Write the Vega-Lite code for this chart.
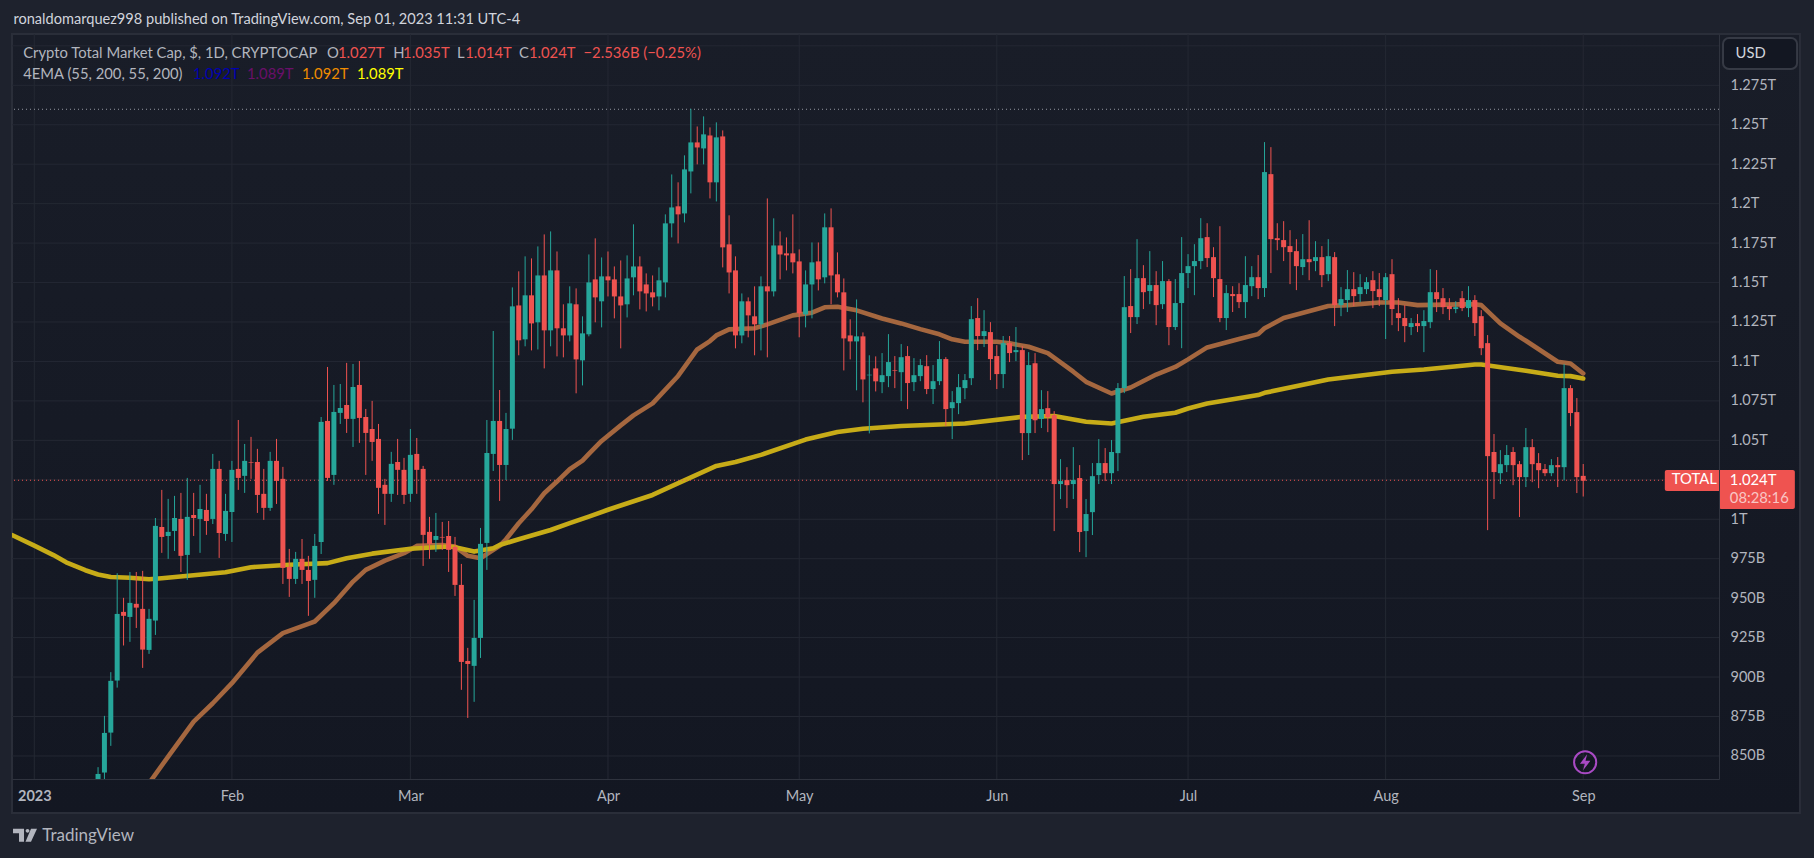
{
"$schema":"https://vega.github.io/schema/vega-lite/v6.json",
"autosize":{"type":"none"},
"padding":{"left":12,"top":34,"right":95,"bottom":79},
"width":1707,"height":745,
"background":"#1e222d",
"config":{"view":{"stroke":null},"font":"Lato","text":{"font":"Lato"},"axis":{"labelFont":"Lato","grid":false,"ticks":false,"title":null}},
"datasets":{
"candles":[
{"date":"2023-01-11","open":830,"high":842.9,"low":828,"close":838.6},
{"date":"2023-01-12","open":839.5,"high":875.4,"low":830,"close":864.6},
{"date":"2023-01-13","open":864.8,"high":903.1,"low":856.4,"close":897.6},
{"date":"2023-01-14","open":897.8,"high":965.8,"low":893.3,"close":940.0},
{"date":"2023-01-15","open":941.3,"high":950.2,"low":920.0,"close":938.8},
{"date":"2023-01-16","open":938.1,"high":966.6,"low":922.3,"close":947.0},
{"date":"2023-01-17","open":946.4,"high":966.6,"low":931.1,"close":944.0},
{"date":"2023-01-18","open":943.2,"high":967.3,"low":905.8,"close":917.4},
{"date":"2023-01-19","open":917.2,"high":943.2,"low":914.7,"close":936.9},
{"date":"2023-01-20","open":935.8,"high":1000.8,"low":926.7,"close":995.8},
{"date":"2023-01-21","open":995.1,"high":1018.6,"low":978.7,"close":988.8},
{"date":"2023-01-22","open":989.4,"high":1012.9,"low":974.9,"close":992.0},
{"date":"2023-01-23","open":992.6,"high":1014.8,"low":979.9,"close":1000.8},
{"date":"2023-01-24","open":1000.2,"high":1016.7,"low":966.6,"close":976.8},
{"date":"2023-01-25","open":977.4,"high":1026.2,"low":961.6,"close":1001.5},
{"date":"2023-01-26","open":1002.7,"high":1016.7,"low":989.4,"close":1000.8},
{"date":"2023-01-27","open":1000.2,"high":1021.8,"low":978.7,"close":1006.5},
{"date":"2023-01-28","open":1005.9,"high":1016.1,"low":990.1,"close":998.9},
{"date":"2023-01-29","open":1000.2,"high":1041.4,"low":997.0,"close":1031.9},
{"date":"2023-01-30","open":1031.9,"high":1037.0,"low":975.5,"close":991.3},
{"date":"2023-01-31","open":990.7,"high":1016.1,"low":986.3,"close":1005.3},
{"date":"2023-02-01","open":1004.6,"high":1037.0,"low":985.6,"close":1031.3},
{"date":"2023-02-02","open":1031.9,"high":1062.9,"low":1018.6,"close":1026.2},
{"date":"2023-02-03","open":1027.5,"high":1047.7,"low":1016.7,"close":1037.0},
{"date":"2023-02-04","open":1036.1,"high":1052.2,"low":1025.6,"close":1035.7},
{"date":"2023-02-05","open":1036.3,"high":1044.6,"low":1004.0,"close":1015.4},
{"date":"2023-02-06","open":1016.1,"high":1031.9,"low":999.6,"close":1007.2},
{"date":"2023-02-07","open":1007.2,"high":1042.7,"low":1005.3,"close":1037.0},
{"date":"2023-02-08","open":1037.0,"high":1050.9,"low":1009.7,"close":1024.3},
{"date":"2023-02-09","open":1025.6,"high":1033.2,"low":959.0,"close":969.2},
{"date":"2023-02-10","open":969.8,"high":981.2,"low":950.8,"close":962.2},
{"date":"2023-02-11","open":962.2,"high":979.3,"low":959.0,"close":974.9},
{"date":"2023-02-12","open":974.9,"high":987.5,"low":959.0,"close":967.9},
{"date":"2023-02-13","open":967.9,"high":976.8,"low":938.8,"close":960.9},
{"date":"2023-02-14","open":961.6,"high":990.7,"low":950.2,"close":983.1},
{"date":"2023-02-15","open":985.6,"high":1064.8,"low":978.0,"close":1061.7},
{"date":"2023-02-16","open":1062.3,"high":1096.5,"low":1024.3,"close":1026.2},
{"date":"2023-02-17","open":1028.1,"high":1085.1,"low":1021.8,"close":1068.0},
{"date":"2023-02-18","open":1067.4,"high":1085.7,"low":1060.4,"close":1070.5},
{"date":"2023-02-19","open":1072.4,"high":1099.1,"low":1054.7,"close":1063.6},
{"date":"2023-02-20","open":1063.6,"high":1098.4,"low":1045.8,"close":1083.8},
{"date":"2023-02-21","open":1085.1,"high":1100.3,"low":1048.4,"close":1064.2},
{"date":"2023-02-22","open":1064.8,"high":1069.9,"low":1028.1,"close":1054.7},
{"date":"2023-02-23","open":1057.2,"high":1075.0,"low":1037.0,"close":1049.0},
{"date":"2023-02-24","open":1050.9,"high":1060.4,"low":1003.4,"close":1019.9},
{"date":"2023-02-25","open":1021.8,"high":1025.6,"low":996.4,"close":1016.1},
{"date":"2023-02-26","open":1016.1,"high":1042.7,"low":1011.0,"close":1035.1},
{"date":"2023-02-27","open":1036.3,"high":1050.9,"low":1015.4,"close":1031.3},
{"date":"2023-02-28","open":1031.3,"high":1038.9,"low":1009.7,"close":1015.4},
{"date":"2023-03-01","open":1016.1,"high":1057.2,"low":1011.0,"close":1040.8},
{"date":"2023-03-02","open":1041.4,"high":1051.5,"low":1016.1,"close":1031.3},
{"date":"2023-03-03","open":1031.9,"high":1033.8,"low":970.4,"close":990.1},
{"date":"2023-03-04","open":992.0,"high":1001.5,"low":974.9,"close":984.4},
{"date":"2023-03-05","open":986.9,"high":1004.0,"low":979.3,"close":989.4},
{"date":"2023-03-06","open":988.8,"high":998.3,"low":980.6,"close":988.4},
{"date":"2023-03-07","open":989.4,"high":998.9,"low":966.6,"close":980.6},
{"date":"2023-03-08","open":982.5,"high":988.8,"low":951.4,"close":958.4},
{"date":"2023-03-09","open":958.4,"high":971.7,"low":891.9,"close":909.6},
{"date":"2023-03-10","open":910.2,"high":918.5,"low":874.1,"close":908.3},
{"date":"2023-03-11","open":907.1,"high":948.9,"low":884.3,"close":924.8},
{"date":"2023-03-12","open":924.8,"high":994.5,"low":912.1,"close":984.4},
{"date":"2023-03-13","open":985.0,"high":1062.9,"low":967.9,"close":1042.0},
{"date":"2023-03-14","open":1041.4,"high":1119.3,"low":1030.6,"close":1062.3},
{"date":"2023-03-15","open":1062.3,"high":1081.9,"low":1011.6,"close":1034.4},
{"date":"2023-03-16","open":1034.4,"high":1067.4,"low":1024.9,"close":1057.2},
{"date":"2023-03-17","open":1057.4,"high":1146.9,"low":1050.3,"close":1134.9},
{"date":"2023-03-18","open":1135.5,"high":1157.1,"low":1103.9,"close":1113.4},
{"date":"2023-03-19","open":1114.0,"high":1166.6,"low":1109.6,"close":1141.9},
{"date":"2023-03-20","open":1141.9,"high":1165.3,"low":1107.0,"close":1124.1},
{"date":"2023-03-21","open":1124.8,"high":1172.9,"low":1107.6,"close":1154.5},
{"date":"2023-03-22","open":1154.5,"high":1180.5,"low":1095.6,"close":1119.7},
{"date":"2023-03-23","open":1119.7,"high":1182.4,"low":1109.6,"close":1157.7},
{"date":"2023-03-24","open":1157.7,"high":1169.7,"low":1103.2,"close":1121.0},
{"date":"2023-03-25","open":1121.0,"high":1136.2,"low":1102.6,"close":1116.5},
{"date":"2023-03-26","open":1116.5,"high":1147.6,"low":1112.7,"close":1136.8},
{"date":"2023-03-27","open":1136.2,"high":1146.3,"low":1079.8,"close":1101.3},
{"date":"2023-03-28","open":1100.7,"high":1128.6,"low":1084.8,"close":1117.8},
{"date":"2023-03-29","open":1117.2,"high":1167.8,"low":1115.9,"close":1150.1},
{"date":"2023-03-30","open":1152.0,"high":1178.0,"low":1124.8,"close":1140.6},
{"date":"2023-03-31","open":1138.1,"high":1165.9,"low":1121.6,"close":1153.9},
{"date":"2023-04-01","open":1153.9,"high":1169.7,"low":1141.2,"close":1151.4},
{"date":"2023-04-02","open":1152.0,"high":1160.2,"low":1127.3,"close":1141.2},
{"date":"2023-04-03","open":1141.2,"high":1164.0,"low":1108.3,"close":1135.5},
{"date":"2023-04-04","open":1136.2,"high":1167.2,"low":1127.9,"close":1152.6},
{"date":"2023-04-05","open":1153.3,"high":1186.9,"low":1141.9,"close":1160.2},
{"date":"2023-04-06","open":1160.2,"high":1166.6,"low":1133.0,"close":1144.4},
{"date":"2023-04-07","open":1148.8,"high":1155.8,"low":1131.7,"close":1143.1},
{"date":"2023-04-08","open":1143.8,"high":1154.5,"low":1134.9,"close":1140.6},
{"date":"2023-04-09","open":1141.2,"high":1159.6,"low":1132.4,"close":1151.4},
{"date":"2023-04-10","open":1150.1,"high":1193.2,"low":1140.6,"close":1187.5},
{"date":"2023-04-11","open":1187.5,"high":1218.5,"low":1178.6,"close":1197.6},
{"date":"2023-04-12","open":1198.3,"high":1213.5,"low":1174.8,"close":1193.2},
{"date":"2023-04-13","open":1193.8,"high":1230.6,"low":1188.1,"close":1221.7},
{"date":"2023-04-14","open":1220.4,"high":1260.1,"low":1206.5,"close":1238.8},
{"date":"2023-04-15","open":1238.8,"high":1248.9,"low":1224.9,"close":1235.6},
{"date":"2023-04-16","open":1235.0,"high":1255.3,"low":1224.9,"close":1243.9},
{"date":"2023-04-17","open":1243.2,"high":1248.3,"low":1203.3,"close":1213.5},
{"date":"2023-04-18","open":1213.5,"high":1251.5,"low":1201.4,"close":1242.0},
{"date":"2023-04-19","open":1242.6,"high":1246.4,"low":1159.6,"close":1172.3},
{"date":"2023-04-20","open":1174.2,"high":1192.6,"low":1143.1,"close":1156.4},
{"date":"2023-04-21","open":1157.7,"high":1166.6,"low":1108.3,"close":1116.5},
{"date":"2023-04-22","open":1116.5,"high":1143.1,"low":1111.5,"close":1138.1},
{"date":"2023-04-23","open":1138.1,"high":1140.6,"low":1115.3,"close":1129.2},
{"date":"2023-04-24","open":1128.6,"high":1147.6,"low":1103.9,"close":1123.5},
{"date":"2023-04-25","open":1123.5,"high":1153.9,"low":1107.0,"close":1147.6},
{"date":"2023-04-26","open":1147.6,"high":1203.3,"low":1102.6,"close":1144.4},
{"date":"2023-04-27","open":1144.4,"high":1190.7,"low":1141.2,"close":1173.5},
{"date":"2023-04-28","open":1173.5,"high":1182.4,"low":1152.0,"close":1167.8},
{"date":"2023-04-29","open":1168.5,"high":1178.6,"low":1157.7,"close":1167.2},
{"date":"2023-04-30","open":1168.5,"high":1193.2,"low":1155.8,"close":1162.8},
{"date":"2023-05-01","open":1163.4,"high":1171.0,"low":1115.3,"close":1130.5},
{"date":"2023-05-02","open":1129.8,"high":1157.7,"low":1121.6,"close":1148.8},
{"date":"2023-05-03","open":1148.8,"high":1175.4,"low":1127.3,"close":1162.8},
{"date":"2023-05-04","open":1163.4,"high":1175.4,"low":1145.0,"close":1152.0},
{"date":"2023-05-05","open":1153.3,"high":1193.8,"low":1149.5,"close":1185.0},
{"date":"2023-05-06","open":1185.0,"high":1197.0,"low":1136.2,"close":1154.5},
{"date":"2023-05-07","open":1155.2,"high":1169.1,"low":1140.6,"close":1143.8},
{"date":"2023-05-08","open":1143.8,"high":1152.6,"low":1094.3,"close":1114.6},
{"date":"2023-05-09","open":1116.5,"high":1126.7,"low":1101.3,"close":1112.7},
{"date":"2023-05-10","open":1112.7,"high":1139.3,"low":1081.7,"close":1115.9},
{"date":"2023-05-11","open":1115.9,"high":1118.4,"low":1074.1,"close":1088.6},
{"date":"2023-05-12","open":1091.2,"high":1103.9,"low":1054.4,"close":1091.6},
{"date":"2023-05-13","open":1095.6,"high":1103.2,"low":1081.0,"close":1087.4},
{"date":"2023-05-14","open":1086.9,"high":1105.3,"low":1079.9,"close":1091.3},
{"date":"2023-05-15","open":1090.7,"high":1117.3,"low":1083.7,"close":1099.6},
{"date":"2023-05-16","open":1094.5,"high":1103.4,"low":1083.1,"close":1094.1},
{"date":"2023-05-17","open":1093.2,"high":1111.0,"low":1074.9,"close":1102.7},
{"date":"2023-05-18","open":1103.4,"high":1109.7,"low":1069.8,"close":1086.3},
{"date":"2023-05-19","open":1086.9,"high":1102.1,"low":1081.2,"close":1091.3},
{"date":"2023-05-20","open":1090.7,"high":1101.5,"low":1087.5,"close":1097.7},
{"date":"2023-05-21","open":1097.0,"high":1104.0,"low":1079.3,"close":1082.5},
{"date":"2023-05-22","open":1082.5,"high":1097.7,"low":1073.0,"close":1087.5},
{"date":"2023-05-23","open":1087.5,"high":1112.9,"low":1085.0,"close":1101.5},
{"date":"2023-05-24","open":1101.5,"high":1102.7,"low":1059.0,"close":1069.8},
{"date":"2023-05-25","open":1070.4,"high":1081.2,"low":1050.8,"close":1074.2},
{"date":"2023-05-26","open":1073.6,"high":1092.0,"low":1066.6,"close":1083.7},
{"date":"2023-05-27","open":1083.1,"high":1092.0,"low":1076.1,"close":1088.2},
{"date":"2023-05-28","open":1089.4,"high":1135.1,"low":1085.0,"close":1126.8},
{"date":"2023-05-29","open":1127.5,"high":1140.1,"low":1107.2,"close":1116.1},
{"date":"2023-05-30","open":1116.1,"high":1132.5,"low":1109.1,"close":1119.2},
{"date":"2023-05-31","open":1118.6,"high":1124.9,"low":1088.2,"close":1101.5},
{"date":"2023-06-01","open":1103.4,"high":1110.3,"low":1082.5,"close":1092.0},
{"date":"2023-06-02","open":1092.0,"high":1116.1,"low":1083.1,"close":1111.6},
{"date":"2023-06-03","open":1111.6,"high":1116.1,"low":1099.6,"close":1105.3},
{"date":"2023-06-04","open":1105.9,"high":1121.8,"low":1100.2,"close":1107.2},
{"date":"2023-06-05","open":1107.2,"high":1109.7,"low":1037.5,"close":1054.6},
{"date":"2023-06-06","open":1054.6,"high":1105.9,"low":1040.7,"close":1097.7},
{"date":"2023-06-07","open":1098.9,"high":1105.3,"low":1054.6,"close":1062.8},
{"date":"2023-06-08","open":1063.5,"high":1081.8,"low":1057.8,"close":1069.8},
{"date":"2023-06-09","open":1070.4,"high":1081.2,"low":1055.2,"close":1064.7},
{"date":"2023-06-10","open":1066.0,"high":1068.5,"low":992.5,"close":1022.3},
{"date":"2023-06-11","open":1022.3,"high":1038.1,"low":1012.8,"close":1024.2},
{"date":"2023-06-12","open":1024.8,"high":1033.0,"low":1007.1,"close":1021.6},
{"date":"2023-06-13","open":1022.3,"high":1045.7,"low":1012.8,"close":1024.8},
{"date":"2023-06-14","open":1026.1,"high":1034.3,"low":979.2,"close":991.9},
{"date":"2023-06-15","open":992.5,"high":1012.8,"low":976.0,"close":1003.3},
{"date":"2023-06-16","open":1004.5,"high":1035.6,"low":990.0,"close":1027.3},
{"date":"2023-06-17","open":1028.0,"high":1050.8,"low":1022.3,"close":1035.6},
{"date":"2023-06-18","open":1035.6,"high":1045.1,"low":1024.2,"close":1029.2},
{"date":"2023-06-19","open":1029.2,"high":1050.2,"low":1022.3,"close":1042.6},
{"date":"2023-06-20","open":1041.9,"high":1086.3,"low":1030.5,"close":1083.1},
{"date":"2023-06-21","open":1083.1,"high":1154.1,"low":1079.9,"close":1134.4},
{"date":"2023-06-22","open":1135.1,"high":1158.5,"low":1118.0,"close":1128.1},
{"date":"2023-06-23","open":1128.1,"high":1177.5,"low":1123.7,"close":1152.8},
{"date":"2023-06-24","open":1152.8,"high":1161.0,"low":1133.2,"close":1143.9},
{"date":"2023-06-25","open":1144.6,"high":1169.9,"low":1136.3,"close":1148.4},
{"date":"2023-06-26","open":1148.4,"high":1157.2,"low":1123.0,"close":1135.7},
{"date":"2023-06-27","open":1136.3,"high":1163.6,"low":1133.2,"close":1150.9},
{"date":"2023-06-28","open":1150.9,"high":1152.2,"low":1110.3,"close":1121.8},
{"date":"2023-06-29","open":1121.8,"high":1152.2,"low":1119.9,"close":1137.0},
{"date":"2023-06-30","open":1137.0,"high":1178.8,"low":1108.4,"close":1156.0},
{"date":"2023-07-01","open":1156.0,"high":1168.0,"low":1146.5,"close":1160.4},
{"date":"2023-07-02","open":1160.4,"high":1174.3,"low":1142.0,"close":1163.6},
{"date":"2023-07-03","open":1163.6,"high":1190.8,"low":1158.5,"close":1178.1},
{"date":"2023-07-04","open":1178.8,"high":1187.6,"low":1159.8,"close":1165.5},
{"date":"2023-07-05","open":1166.1,"high":1172.4,"low":1140.8,"close":1152.8},
{"date":"2023-07-06","open":1152.2,"high":1185.7,"low":1124.9,"close":1127.5},
{"date":"2023-07-07","open":1127.5,"high":1148.4,"low":1119.9,"close":1143.3},
{"date":"2023-07-08","open":1142.7,"high":1147.7,"low":1131.3,"close":1141.4},
{"date":"2023-07-09","open":1142.7,"high":1149.6,"low":1133.8,"close":1137.6},
{"date":"2023-07-10","open":1137.6,"high":1166.7,"low":1127.5,"close":1148.4},
{"date":"2023-07-11","open":1147.7,"high":1160.4,"low":1141.4,"close":1153.4},
{"date":"2023-07-12","open":1153.4,"high":1167.4,"low":1139.5,"close":1146.5},
{"date":"2023-07-13","open":1146.5,"high":1239.0,"low":1140.8,"close":1220.0},
{"date":"2023-07-14","open":1218.7,"high":1235.8,"low":1156.0,"close":1177.5},
{"date":"2023-07-15","open":1178.1,"high":1187.6,"low":1170.5,"close":1176.9},
{"date":"2023-07-16","open":1176.9,"high":1188.9,"low":1163.6,"close":1172.4},
{"date":"2023-07-17","open":1173.1,"high":1183.2,"low":1149.0,"close":1169.3},
{"date":"2023-07-18","open":1169.9,"high":1177.5,"low":1145.2,"close":1160.4},
{"date":"2023-07-19","open":1159.8,"high":1180.7,"low":1154.7,"close":1164.8},
{"date":"2023-07-20","open":1164.8,"high":1189.5,"low":1151.5,"close":1162.9},
{"date":"2023-07-21","open":1163.6,"high":1176.2,"low":1157.2,"close":1166.1},
{"date":"2023-07-22","open":1166.1,"high":1173.1,"low":1147.1,"close":1154.7},
{"date":"2023-07-23","open":1155.3,"high":1177.5,"low":1150.9,"close":1166.7},
{"date":"2023-07-24","open":1166.1,"high":1169.3,"low":1122.4,"close":1135.7},
{"date":"2023-07-25","open":1135.7,"high":1147.1,"low":1128.7,"close":1139.5},
{"date":"2023-07-26","open":1138.9,"high":1157.9,"low":1131.3,"close":1145.8},
{"date":"2023-07-27","open":1145.8,"high":1156.6,"low":1135.1,"close":1141.4},
{"date":"2023-07-28","open":1142.7,"high":1155.3,"low":1137.6,"close":1147.1},
{"date":"2023-07-29","open":1145.8,"high":1153.4,"low":1142.7,"close":1150.3},
{"date":"2023-07-30","open":1151.5,"high":1157.2,"low":1133.8,"close":1144.6},
{"date":"2023-07-31","open":1145.8,"high":1156.0,"low":1135.1,"close":1140.8},
{"date":"2023-08-01","open":1138.9,"high":1156.0,"low":1114.2,"close":1153.4},
{"date":"2023-08-02","open":1155.3,"high":1164.8,"low":1123.0,"close":1133.2},
{"date":"2023-08-03","open":1130.6,"high":1140.1,"low":1119.2,"close":1127.5},
{"date":"2023-08-04","open":1127.5,"high":1135.7,"low":1112.2,"close":1122.4},
{"date":"2023-08-05","open":1121.8,"high":1127.5,"low":1116.7,"close":1124.3},
{"date":"2023-08-06","open":1124.3,"high":1130.0,"low":1118.6,"close":1122.4},
{"date":"2023-08-07","open":1122.4,"high":1132.5,"low":1105.9,"close":1125.6},
{"date":"2023-08-08","open":1124.9,"high":1158.5,"low":1121.1,"close":1143.9},
{"date":"2023-08-09","open":1143.9,"high":1157.9,"low":1131.3,"close":1139.5},
{"date":"2023-08-10","open":1140.1,"high":1146.5,"low":1130.0,"close":1134.4},
{"date":"2023-08-11","open":1135.1,"high":1140.1,"low":1126.2,"close":1133.2},
{"date":"2023-08-12","open":1133.2,"high":1138.2,"low":1130.6,"close":1134.4},
{"date":"2023-08-13","open":1140.1,"high":1144.6,"low":1131.9,"close":1133.8},
{"date":"2023-08-14","open":1133.8,"high":1147.7,"low":1128.1,"close":1138.9},
{"date":"2023-08-15","open":1138.9,"high":1142.0,"low":1116.1,"close":1124.3},
{"date":"2023-08-16","open":1128.7,"high":1132.5,"low":1104.0,"close":1108.4},
{"date":"2023-08-17","open":1111.6,"high":1116.7,"low":993.1,"close":1040.0},
{"date":"2023-08-18","open":1042.6,"high":1054.0,"low":1012.8,"close":1029.9},
{"date":"2023-08-19","open":1029.2,"high":1043.8,"low":1022.3,"close":1034.9},
{"date":"2023-08-20","open":1034.3,"high":1047.0,"low":1029.9,"close":1040.7},
{"date":"2023-08-21","open":1042.6,"high":1045.7,"low":1021.6,"close":1034.3},
{"date":"2023-08-22","open":1034.9,"high":1036.9,"low":1001.4,"close":1026.7},
{"date":"2023-08-23","open":1026.7,"high":1057.8,"low":1020.4,"close":1045.7},
{"date":"2023-08-24","open":1045.7,"high":1050.8,"low":1023.5,"close":1034.9},
{"date":"2023-08-25","open":1035.6,"high":1041.9,"low":1019.7,"close":1031.1},
{"date":"2023-08-26","open":1031.8,"high":1035.0,"low":1027.3,"close":1029.2},
{"date":"2023-08-27","open":1029.2,"high":1038.1,"low":1027.3,"close":1034.3},
{"date":"2023-08-28","open":1034.3,"high":1039.4,"low":1020.4,"close":1033.0},
{"date":"2023-08-29","open":1033.0,"high":1098.3,"low":1024.6,"close":1083.1},
{"date":"2023-08-30","open":1083.1,"high":1085.0,"low":1059.0,"close":1067.3},
{"date":"2023-08-31","open":1067.9,"high":1076.8,"low":1016.6,"close":1026.7},
{"date":"2023-09-01","open":1027.5,"high":1035.0,"low":1014.4,"close":1024.4}
],
"ema55":[
{"date":"2023-01-19","price":832.7},{"date":"2023-01-22","price":849.6},{"date":"2023-01-26","price":871.8},{"date":"2023-01-29","price":883.4},{"date":"2023-02-01","price":896.1},{"date":"2023-02-05","price":915.5},{"date":"2023-02-09","price":927.8},{"date":"2023-02-13","price":933.7},{"date":"2023-02-14","price":935.2},{"date":"2023-02-17","price":946.8},{"date":"2023-02-20","price":960.5},{"date":"2023-02-22","price":967.9},{"date":"2023-02-25","price":973.8},{"date":"2023-02-28","price":978.5},{"date":"2023-03-02","price":983.1},{"date":"2023-03-06","price":983.7},{"date":"2023-03-08","price":982.7},{"date":"2023-03-10","price":976.8},{"date":"2023-03-12","price":975.3},{"date":"2023-03-13","price":978.0},{"date":"2023-03-15","price":983.1},{"date":"2023-03-16","price":987.3},{"date":"2023-03-18","price":997.5},{"date":"2023-03-20","price":1006.3},{"date":"2023-03-22","price":1016.5},{"date":"2023-03-24","price":1023.9},{"date":"2023-03-26","price":1031.7},{"date":"2023-03-28","price":1037.2},{"date":"2023-03-29","price":1041.4},{"date":"2023-03-31","price":1049.6},{"date":"2023-04-03","price":1059.5},{"date":"2023-04-05","price":1065.8},{"date":"2023-04-08","price":1073.4},{"date":"2023-04-12","price":1090.8},{"date":"2023-04-15","price":1107.6},{"date":"2023-04-17","price":1112.9},{"date":"2023-04-18","price":1116.5},{"date":"2023-04-20","price":1120.3},{"date":"2023-04-24","price":1121.0},{"date":"2023-04-26","price":1123.5},{"date":"2023-04-30","price":1129.2},{"date":"2023-05-03","price":1130.9},{"date":"2023-05-05","price":1134.3},{"date":"2023-05-07","price":1134.7},{"date":"2023-05-10","price":1132.4},{"date":"2023-05-14","price":1127.2},{"date":"2023-05-17","price":1124.1},{"date":"2023-05-20","price":1120.5},{"date":"2023-05-23","price":1117.2},{"date":"2023-05-25","price":1114.0},{"date":"2023-05-27","price":1112.5},{"date":"2023-06-01","price":1112.5},{"date":"2023-06-03","price":1111.5},{"date":"2023-06-06","price":1109.3},{"date":"2023-06-09","price":1105.3},{"date":"2023-06-13","price":1093.5},{"date":"2023-06-15","price":1087.1},{"date":"2023-06-19","price":1079.7},{"date":"2023-06-22","price":1083.5},{"date":"2023-06-26","price":1091.7},{"date":"2023-06-29","price":1096.5},{"date":"2023-07-01","price":1101.3},{"date":"2023-07-04","price":1108.9},{"date":"2023-07-09","price":1114.2},{"date":"2023-07-12","price":1117.3},{"date":"2023-07-13","price":1121.0},{"date":"2023-07-16","price":1127.5},{"date":"2023-07-23","price":1135.1},{"date":"2023-07-26","price":1135.7},{"date":"2023-07-31","price":1137.4},{"date":"2023-08-03","price":1137.4},{"date":"2023-08-06","price":1135.7},{"date":"2023-08-15","price":1136.3},{"date":"2023-08-16","price":1135.7},{"date":"2023-08-19","price":1124.1},{"date":"2023-08-22","price":1115.6},{"date":"2023-08-23","price":1113.1},{"date":"2023-08-28","price":1099.8},{"date":"2023-08-30","price":1098.7},{"date":"2023-09-01","price":1092.4}
],
"ema200":[
{"date":"2022-12-28T12:00:00Z","price":990.0},{"date":"2023-01-01","price":983.3},{"date":"2023-01-04","price":977.3},{"date":"2023-01-06","price":972.7},{"date":"2023-01-09","price":967.7},{"date":"2023-01-11","price":965.0},{"date":"2023-01-13","price":963.4},{"date":"2023-01-16","price":962.9},{"date":"2023-01-19","price":962.0},{"date":"2023-01-21","price":962.6},{"date":"2023-01-26","price":964.5},{"date":"2023-01-31","price":966.4},{"date":"2023-02-04","price":969.6},{"date":"2023-02-10","price":971.2},{"date":"2023-02-16","price":972.2},{"date":"2023-02-19","price":975.3},{"date":"2023-02-23","price":978.2},{"date":"2023-03-01","price":981.3},{"date":"2023-03-07","price":982.7},{"date":"2023-03-08","price":982.3},{"date":"2023-03-11","price":979.5},{"date":"2023-03-14","price":981.6},{"date":"2023-03-15","price":983.7},{"date":"2023-03-18","price":987.3},{"date":"2023-03-23","price":993.2},{"date":"2023-03-26","price":997.5},{"date":"2023-03-29","price":1001.7},{"date":"2023-04-01","price":1006.0},{"date":"2023-04-08","price":1015.4},{"date":"2023-04-11","price":1021.0},{"date":"2023-04-18","price":1033.8},{"date":"2023-04-21","price":1036.3},{"date":"2023-04-25","price":1040.8},{"date":"2023-05-02","price":1050.5},{"date":"2023-05-07","price":1055.3},{"date":"2023-05-11","price":1057.4},{"date":"2023-05-17","price":1059.1},{"date":"2023-05-27","price":1060.7},{"date":"2023-06-05","price":1064.9},{"date":"2023-06-10","price":1065.4},{"date":"2023-06-15","price":1061.8},{"date":"2023-06-19","price":1060.7},{"date":"2023-06-24","price":1064.9},{"date":"2023-06-29","price":1067.5},{"date":"2023-07-01","price":1070.2},{"date":"2023-07-04","price":1073.4},{"date":"2023-07-12","price":1078.7},{"date":"2023-07-13","price":1080.1},{"date":"2023-07-23","price":1088.6},{"date":"2023-08-02","price":1093.5},{"date":"2023-08-07","price":1094.9},{"date":"2023-08-15","price":1098.1},{"date":"2023-08-16","price":1098.1},{"date":"2023-08-23","price":1094.1},{"date":"2023-08-28","price":1090.9},{"date":"2023-08-30","price":1090.7},{"date":"2023-09-01","price":1089.2}
],
"labels":[
{"date":"2022-12-30T06:15:00Z","price":1294.9,"label":"Crypto Total Market Cap, $, 1D, CRYPTOCAP","kind":"muted"},
{"date":"2023-02-15T22:00:00Z","price":1294.9,"label":"O","kind":"muted"},
{"date":"2023-02-17T15:36:00Z","price":1294.9,"label":"1.027T","kind":"down"},
{"date":"2023-02-26T07:12:00Z","price":1294.9,"label":"H","kind":"muted"},
{"date":"2023-02-27T20:24:00Z","price":1294.9,"label":"1.035T","kind":"down"},
{"date":"2023-03-08T07:12:00Z","price":1294.9,"label":"L","kind":"muted"},
{"date":"2023-03-09T14:24:00Z","price":1294.9,"label":"1.014T","kind":"down"},
{"date":"2023-03-18T01:00:00Z","price":1294.9,"label":"C","kind":"muted"},
{"date":"2023-03-19T14:24:00Z","price":1294.9,"label":"1.024T","kind":"down"},
{"date":"2023-03-28T03:50:00Z","price":1294.9,"label":"−2.536B (−0.25%)","kind":"down"},
{"date":"2022-12-30T06:15:00Z","price":1281.6,"label":"4EMA (55, 200, 55, 200)","kind":"muted"},
{"date":"2023-01-25T21:36:00Z","price":1281.6,"label":"1.092T","kind":"blue"},
{"date":"2023-02-03T08:53:00Z","price":1281.6,"label":"1.089T","kind":"purple"},
{"date":"2023-02-12T00:00:00Z","price":1281.6,"label":"1.092T","kind":"orange"},
{"date":"2023-02-20T15:07:00Z","price":1281.6,"label":"1.089T","kind":"yellow"},
{"date":"2023-09-24T21:36:00Z","price":1294.9,"label":"USD","kind":"light"},
{"date":"2023-09-14T21:36:00Z","price":1024.7,"label":"TOTAL","kind":"white"},
{"date":"2023-09-24T00:00:00Z","price":1024.5,"label":"1.024T","kind":"white"},
{"date":"2023-09-24T00:00:00Z","price":1012.9,"label":"08:28:16","kind":"timer"}
]
},
"layer":[
{"data":{"values":[{"date":"2022-12-28T12:00:00Z","date2":"2023-10-05","price":1307.5,"price2":813.9}]},
 "mark":{"type":"rect","stroke":"#2a2e39","strokeWidth":2,"fill":{"gradient":"linear","x1":0,"y1":0,"x2":0,"y2":1,"stops":[{"offset":0,"color":"#191d28"},{"offset":1,"color":"#131722"}]}},
 "encoding":{
  "x":{"field":"date","type":"temporal","title":null,"scale":{"type":"utc","domain":[1672228800000,1695366720000],"nice":false,"padding":0},
   "axis":{"orient":"bottom","title":null,"grid":false,"ticks":false,"domain":true,"domainColor":"#2f333e","domainWidth":1,"zindex":1,
    "values":[1672531200000,1675209600000,1677628800000,1680307200000,1682899200000,1685577600000,1688169600000,1690848000000,1693526400000],
    "labelExpr":"utcmonth(datum.value)===0?'2023':utcFormat(datum.value,'%b')","labelFontWeight":{"expr":"utcmonth(datum.value)===0?'bold':'normal'"},"labelColor":"#b2b5be","labelFontSize":14.5,"labelPadding":10,"labelAngle":0,"labelOverlap":false,"labelBound":false,"labelFlush":false}},
  "x2":{"field":"date2"},
  "y":{"field":"price","type":"quantitative","title":null,"scale":{"domain":[835.4,1307.5],"nice":false,"zero":false,"padding":0},
   "axis":{"orient":"right","title":null,"grid":false,"ticks":false,"domain":true,"domainColor":"#2f333e","domainWidth":1,"zindex":1,
    "values":[850,875,900,925,950,975,1000,1050,1075,1100,1125,1150,1175,1200,1225,1250,1275],
    "labelExpr":"datum.value>=1000?format(datum.value/1000,'.4~f')+'T':datum.value+'B'","labelColor":"#b2b5be","labelFontSize":14.5,"labelPadding":11,"labelAlign":"left","labelOverlap":false,"labelBound":false,"labelFlush":false}},
  "y2":{"field":"price2"}}},
{"data":{"values":[{"price":850},{"price":875},{"price":900},{"price":925},{"price":950},{"price":975},{"price":1000},{"price":1025},{"price":1050},{"price":1075},{"price":1100},{"price":1125},{"price":1150},{"price":1175},{"price":1200},{"price":1225},{"price":1250},{"price":1275},{"price":1300}]},
 "mark":{"type":"rule","stroke":"#242833","strokeWidth":1},
 "encoding":{"y":{"field":"price","type":"quantitative"}}},
{"data":{"values":[{"date":"2023-01-01"},{"date":"2023-02-01"},{"date":"2023-03-01"},{"date":"2023-04-01"},{"date":"2023-05-01"},{"date":"2023-06-01"},{"date":"2023-07-01"},{"date":"2023-08-01"},{"date":"2023-09-01"}]},
 "mark":{"type":"rule","stroke":"#242833","strokeWidth":1},
 "encoding":{"x":{"field":"date","type":"temporal"}}},
{"data":{"values":[{"price":1259.8}]},
 "mark":{"type":"rule","stroke":"#9598a1","strokeWidth":1,"strokeDash":[1,3]},
 "encoding":{"y":{"field":"price","type":"quantitative"}}},
{"data":{"name":"ema55"},
 "mark":{"type":"line","stroke":"#a5673f","strokeWidth":4.6,"clip":true,"strokeCap":"round","strokeJoin":"round"},
 "encoding":{"x":{"field":"date","type":"temporal"},"y":{"field":"price","type":"quantitative"}}},
{"data":{"name":"ema200"},
 "mark":{"type":"line","stroke":"#c7ac18","strokeWidth":4.6,"clip":true,"strokeCap":"round","strokeJoin":"round"},
 "encoding":{"x":{"field":"date","type":"temporal"},"y":{"field":"price","type":"quantitative"}}},
{"data":{"values":[{"price":1024.7}]},
 "mark":{"type":"rule","stroke":"#ef5350","strokeWidth":1,"strokeDash":[1,3]},
 "encoding":{"y":{"field":"price","type":"quantitative"}}},
{"data":{"name":"candles"},
 "mark":{"type":"rule","strokeWidth":1,"clip":true},
 "encoding":{"x":{"field":"date","type":"temporal"},"y":{"field":"low","type":"quantitative"},"y2":{"field":"high"},
  "color":{"condition":{"test":"datum.close>=datum.open","value":"#26a69a"},"value":"#ef5350"}}},
{"data":{"name":"candles"},
 "mark":{"type":"bar","size":5,"clip":true},
 "encoding":{"x":{"field":"date","type":"temporal"},"y":{"field":"open","type":"quantitative"},"y2":{"field":"close"},
  "color":{"condition":{"test":"datum.close>=datum.open","value":"#26a69a"},"value":"#ef5350"}}},
{"data":{"values":[{"date":"2023-09-13T19:12:00Z","date2":"2023-09-23","price":1031.2,"price2":1017.9},{"date":"2023-09-22T07:12:00Z","date2":"2023-10-04T04:48:00Z","price":1031.2,"price2":1006.5}]},
 "mark":{"type":"rect","fill":"#ef5350","cornerRadius":2},
 "encoding":{"x":{"field":"date","type":"temporal"},"x2":{"field":"date2"},"y":{"field":"price","type":"quantitative"},"y2":{"field":"price2"}}},
{"data":{"values":[{"date":"2023-09-22T22:20:00Z","date2":"2023-10-04T13:12:00Z","price":1305,"price2":1285.3}]},
 "mark":{"type":"rect","fill":"#131722","stroke":"#363a45","strokeWidth":2,"cornerRadius":6},
 "encoding":{"x":{"field":"date","type":"temporal"},"x2":{"field":"date2"},"y":{"field":"price","type":"quantitative"},"y2":{"field":"price2"}}},
{"data":{"values":[{"date":"2023-09-01T07:12:00Z","price":846}]},
 "mark":{"type":"point","shape":"circle","size":490,"filled":false,"stroke":"#a94ac4","strokeWidth":2,"opacity":1},
 "encoding":{"x":{"field":"date","type":"temporal"},"y":{"field":"price","type":"quantitative"}}},
{"data":{"values":[{"date":"2023-09-01T07:12:00Z","price":846}]},
 "mark":{"type":"point","shape":"M0.25,-1L-0.65,0.18H-0.05L-0.25,1L0.65,-0.18H0.05Z","size":256,"filled":true,"fill":"#a94ac4","strokeWidth":0,"opacity":1},
 "encoding":{"x":{"field":"date","type":"temporal"},"y":{"field":"price","type":"quantitative"}}},
{"data":{"values":[{"date":"2022-12-30T13:00:00Z","price":799.7}]},
 "mark":{"type":"point","shape":"M-1,-0.54H-0.083V0.54H-0.5V-0.167H-1ZM0.05,-0.375a0.16,0.16 0 1,0 0.32,0a0.16,0.16 0 1,0 -0.32,0ZM0.5,-0.54H1L0.5,0.54H0.04Z","size":576,"filled":true,"fill":"#b2b5be","strokeWidth":0,"opacity":1},
 "encoding":{"x":{"field":"date","type":"temporal"},"y":{"field":"price","type":"quantitative"}}},
{"data":{"values":[{"date":"2023-01-02T06:14:00Z","price":799.0,"label":"TradingView"}]},
 "mark":{"type":"text","align":"left","baseline":"middle","fontSize":17,"fill":"#b2b5be"},
 "encoding":{"x":{"field":"date","type":"temporal"},"y":{"field":"price","type":"quantitative"},"text":{"field":"label"}}},
{"data":{"values":[{"date":"2022-12-28T17:17:00Z","price":1316.3,"label":"ronaldomarquez998 published on TradingView.com, Sep 01, 2023 11:31 UTC-4"}]},
 "mark":{"type":"text","align":"left","baseline":"middle","fontSize":14.6,"fill":"#d1d4dc"},
 "encoding":{"x":{"field":"date","type":"temporal"},"y":{"field":"price","type":"quantitative"},"text":{"field":"label"}}},
{"data":{"name":"labels"},
 "mark":{"type":"text","align":"left","baseline":"middle","fontSize":14.8},
 "encoding":{"x":{"field":"date","type":"temporal"},"y":{"field":"price","type":"quantitative"},"text":{"field":"label"},
  "color":{"field":"kind","type":"nominal","legend":null,"scale":{"domain":["muted","down","blue","purple","orange","yellow","light","white","timer"],"range":["#b2b5be","#ef5350","#0000b0","#6a0f6a","#f08c00","#ffff00","#d1d4dc","#ffffff","#f9c6c4"]}}}}
]
}
